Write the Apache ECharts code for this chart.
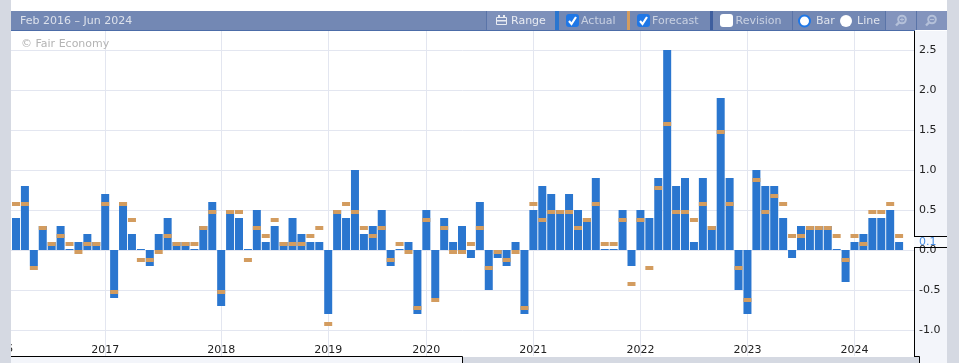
<!DOCTYPE html>
<html>
<head>
<meta charset="utf-8">
<style>
  html, body { margin: 0; padding: 0; background: #d5d9e2; }
  #chart { width: 959px; height: 363px; }
</style>
<script src="https://cdn.jsdelivr.net/npm/echarts@6/dist/echarts.min.js"></script>
</head>
<body>
<div id="chart"></div>
<script>
const actual = [
  0.4, 0.8, -0.2, 0.3, 0.1, 0.3, 0, 0.1, 0.2, 0.1,
  0.7, -0.6, 0.6, 0.2, 0, -0.2, 0.2, 0.4, 0.1, 0.1,
  0, 0.3, 0.6, -0.7, 0.5, 0.4, 0, 0.5, 0.1, 0.3,
  0.1, 0.4, 0.2, 0.1, 0.1, -0.8, 0.5, 0.4, 1.0, 0.2,
  0.3, 0.5, -0.2, 0, 0.1, -0.8, 0.5, -0.6, 0.4, 0.1,
  0.3, -0.1, 0.6, -0.5, -0.1, -0.2, 0.1, -0.8, 0.5, 0.8,
  0.7, 0.5, 0.7, 0.5, 0.4, 0.9, 0, 0, 0.5, -0.2,
  0.5, 0.4, 0.9, 2.5, 0.8, 0.9, 0.1, 0.9, 0.3, 1.9,
  0.9, -0.5, -0.8, 1.0, 0.8, 0.8, 0.4, -0.1, 0.3, 0.3,
  0.3, 0.3, 0, -0.4, 0.1, 0.2, 0.4, 0.4, 0.5, 0.1
];
const forecast = [
  0.6, 0.6, -0.2, 0.3, 0.1, 0.2, 0.1, 0, 0.1, 0.1,
  0.6, -0.5, 0.6, 0.4, -0.1, -0.1, 0, 0.2, 0.1, 0.1,
  0.1, 0.3, 0.5, -0.5, 0.5, 0.5, -0.1, 0.3, 0.2, 0.4,
  0.1, 0.1, 0.1, 0.2, 0.3, -0.9, 0.5, 0.6, 0.5, 0.3,
  0.2, 0.3, -0.1, 0.1, 0, -0.7, 0.4, -0.6, 0.3, 0,
  0, 0.1, 0.3, -0.2, 0, -0.1, 0, -0.7, 0.6, 0.4,
  0.5, 0.5, 0.5, 0.3, 0.4, 0.6, 0.1, 0.1, 0.4, -0.4,
  0.4, -0.2, 0.8, 1.6, 0.5, 0.5, 0.4, 0.6, 0.3, 1.5,
  0.6, -0.2, -0.6, 0.9, 0.5, 0.7, 0.6, 0.2, 0.2, 0.3,
  0.3, 0.3, 0.2, -0.1, 0.2, 0.1, 0.5, 0.5, 0.6, 0.2
];
// bar index that each year label sits on
const yearTicks = [10, 23, 35, 46, 58, 70, 82, 94];
const yearLabels = ['2017', '2018', '2019', '2020', '2021', '2022', '2023', '2024'];
const valueTicks = [-1, -0.5, 0, 0.5, 1, 1.5, 2, 2.5];

const FONT = '"DejaVu Sans", sans-serif';
const BLUE = '#2a76cf';
const ORANGE = '#d39c5f';
const CHECK = '#1f77e6';
const y0 = 14;

function rect(x, y, w, h, fill, r) {
  return { type: 'rect', silent: true, shape: { x, y, width: w, height: h, r: r || 0 }, style: { fill } };
}
function label(x, y, text, fill, align) {
  return {
    type: 'text', silent: true, x, y,
    style: { text, fill, font: '11px ' + FONT, align: align || 'left', verticalAlign: 'middle' }
  };
}
function checkbox(x, fill, checked) {
  const items = [rect(x, y0, 13, 13, fill, 3)];
  if (checked) {
    items.push({
      type: 'polyline', silent: true,
      shape: { points: [[x + 3, y0 + 7], [x + 5.5, y0 + 10], [x + 10, y0 + 3]] },
      style: { stroke: '#fff', lineWidth: 2.2, fill: null }
    });
  }
  return items;
}
function circle(cx, r, fill, stroke, lw) {
  return { type: 'circle', silent: true, shape: { cx, cy: 21, r }, style: { fill, stroke, lineWidth: lw || 0 } };
}
function blackLine(x1, y1, x2, y2) {
  return { type: 'line', silent: true, shape: { x1, y1, x2, y2 }, style: { stroke: '#000', lineWidth: 1 } };
}
function magnifier(cx, plus) {
  const ic = '#b4c0d9';
  const items = [
    { type: 'circle', silent: true, shape: { cx: cx + 1, cy: 19.5, r: 3.8 }, style: { fill: null, stroke: ic, lineWidth: 2 } },
    { type: 'line', silent: true, shape: { x1: cx - 2, y1: 22.5, x2: cx - 5, y2: 25.5 }, style: { stroke: ic, lineWidth: 2.4 } }
  ];
  if (plus) {
    items.push({ type: 'line', silent: true, shape: { x1: cx + 1, y1: 17.5, x2: cx + 1, y2: 21.5 }, style: { stroke: ic, lineWidth: 1 } });
  }
  items.push({ type: 'line', silent: true, shape: { x1: cx - 1, y1: 19.5, x2: cx + 3, y2: 19.5 }, style: { stroke: ic, lineWidth: 1.2 } });
  return items;
}

// sits under the axis labels
const underLabels = [
  rect(914, 31, 33, 332, '#f3f5fa'),
  rect(914, 236, 33, 11, '#f8fafd')
].map(el => Object.assign({ z: -1 }, el));

const frame = [
  // cut off 2016 label, hidden behind the left margin
  label(-1, 349, '2016', '#222', 'center'),
  rect(0, 0, 11, 363, '#d5d9e2'),
  rect(11, 357, 451, 6, '#f3f5fa'),
  rect(463, 357, 456, 6, '#d5d9e2'),
  blackLine(11, 356.5, 462.5, 356.5),
  blackLine(462.5, 356.5, 462.5, 363),
  blackLine(914.5, 356.5, 919.5, 356.5),
  blackLine(919.5, 356.5, 919.5, 363),
  blackLine(914.5, 31, 914.5, 236.5),
  blackLine(914.5, 247.5, 914.5, 357),
  // last value tag
  blackLine(914, 236.5, 947, 236.5),
  blackLine(914, 247.5, 947, 247.5),
  label(919, 242, '0.1', '#4a8fe3'),
  rect(947, 0, 12, 363, '#d5d9e2'),
  // toolbar
  rect(11, 11, 936, 19, '#7388b4'),
  rect(11, 30, 904, 1, '#4c6ca8'),
  rect(487, 11, 68, 19, '#7d90ba'),
  rect(886, 11, 61, 19, '#8394bd'),
  rect(486, 11, 1, 19, '#5a74a8'),
  rect(555, 11, 4, 19, BLUE),
  rect(627, 11, 3, 19, ORANGE),
  rect(710, 11, 3, 19, '#3e5e9e'),
  rect(792, 11, 1, 19, '#5a74a8'),
  rect(885, 11, 1, 19, '#5a74a8'),
  rect(916, 11, 1, 19, '#5a74a8'),
  label(20, 21, 'Feb 2016 \u2013 Jun 2024', '#dce1eb'),
  // calendar icon
  { type: 'rect', silent: true, shape: { x: 496.5, y: 17.5, width: 10, height: 7 }, style: { fill: null, stroke: '#e8ebf2', lineWidth: 1 } },
  rect(496, 20, 11, 1.5, '#e8ebf2'),
  rect(498, 15, 2, 3, '#e8ebf2'),
  rect(503, 15, 2, 3, '#e8ebf2'),
  label(511, 21, 'Range', '#e8ebf2'),
  ...checkbox(566, CHECK, true),
  label(581, 21, 'Actual', '#c9d1e2'),
  ...checkbox(637, CHECK, true),
  label(652, 21, 'Forecast', '#c9d1e2'),
  ...checkbox(720, '#fff', false),
  label(735.5, 21, 'Revision', '#c9d1e2'),
  circle(804.5, 5.5, '#fff', CHECK, 2),
  label(816, 21, 'Bar', '#dfe3ec'),
  circle(846, 6, '#fff'),
  label(857, 21, 'Line', '#dfe3ec'),
  ...magnifier(901, true),
  ...magnifier(931, false),
  label(21, 44, '\u00a9 Fair Economy', '#b4b4b4')
].map(el => Object.assign({ z: 100 }, el));

const myChart = echarts.init(document.getElementById('chart'), null, { renderer: 'canvas' });
myChart.setOption({
  animation: false,
  backgroundColor: '#fff',
  textStyle: { fontFamily: FONT },
  grid: { left: 11, right: 45, top: 31, bottom: 7 },
  xAxis: {
    type: 'value',
    min: -0.56,
    max: 100.67,
    axisLine: { show: false },
    axisTick: { show: false, customValues: yearTicks },
    axisLabel: {
      inside: true,
      margin: 0,
      verticalAlign: 'bottom',
      color: '#222',
      fontSize: 11,
      fontFamily: FONT,
      customValues: yearTicks,
      formatter: v => yearLabels[yearTicks.indexOf(v)]
    },
    splitLine: { show: true, lineStyle: { color: '#e3e6f0', width: 1 } }
  },
  yAxis: {
    type: 'value',
    position: 'right',
    min: -1.325,
    max: 2.7375,
    axisLine: { show: false },
    axisTick: { show: false, customValues: valueTicks },
    axisLabel: {
      margin: 5,
      padding: [2, 0, 0, 0],
      color: '#222',
      fontSize: 11,
      fontFamily: FONT,
      customValues: valueTicks,
      formatter: v => v.toFixed(1)
    },
    splitLine: { show: true, lineStyle: { color: '#e3e6f0', width: 1 } }
  },
  series: [{
    name: 'Actual',
    type: 'bar',
    data: actual.map((v, i) => [i, v]),
    barWidth: 8,
    barMinHeight: 1,
    itemStyle: { color: BLUE },
    silent: true
  }, {
    name: 'Forecast',
    type: 'scatter',
    data: forecast.map((v, i) => [i, v]),
    symbol: 'rect',
    symbolSize: [8, 4],
    symbolOffset: [0, 2],
    itemStyle: { color: ORANGE, opacity: 1 },
    silent: true,
    z: 5
  }],
  graphic: { elements: underLabels.concat(frame) }
});

window.addEventListener('resize', function () {
  myChart.resize();
});
</script>
</body>
</html>
